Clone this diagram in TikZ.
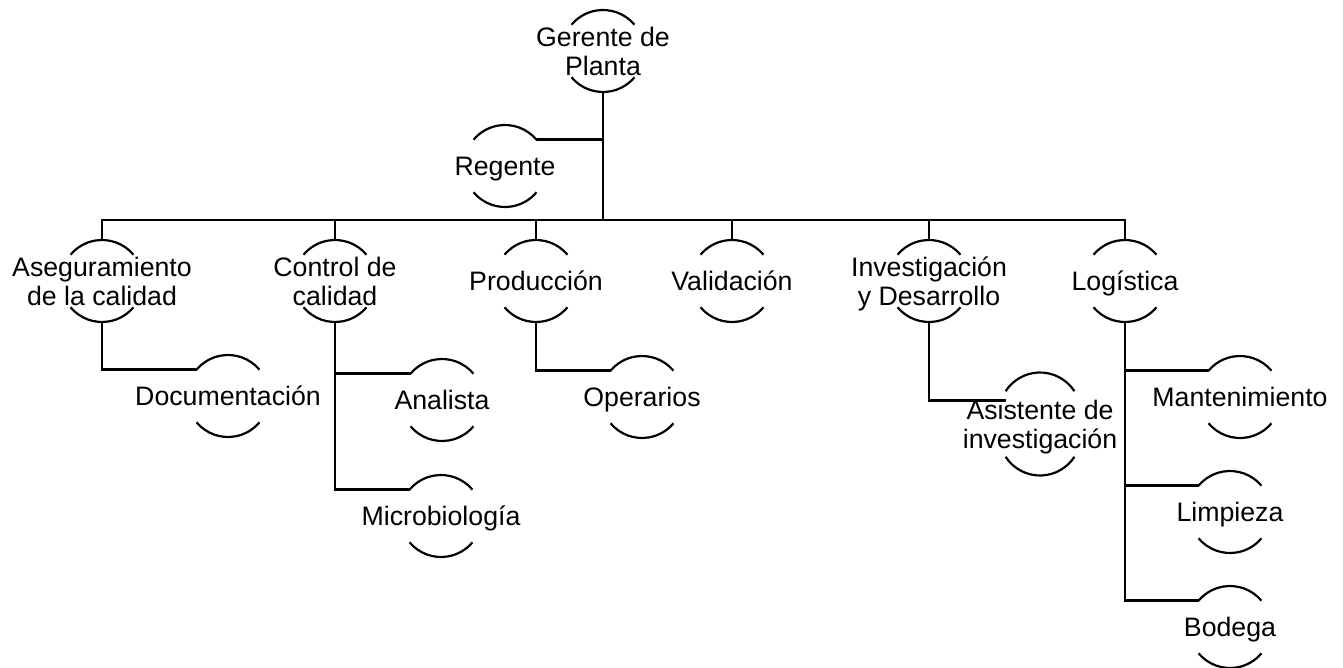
\documentclass[tikz,border=0pt]{standalone}
\usepackage{fontspec}
\setmainfont{Liberation Sans}
\newcommand{\orgfont}{\fontsize{26.7}{29}\selectfont}
% text of a unit, centred, taking no width
\newcommand{\orglines}[1]{\hbox to 0pt{\hss\begin{tabular}{c}#1\end{tabular}\hss}}

\tikzset{
	link/.style={line width=2.5pt},
	unitarc/.style={line width=2.2pt},
	% top and bottom arcs round a unit
	unitarcs/.style 2 args={append after command={\pgfextra{
		\draw[unitarc] ([yshift=#1]\tikzlastnode.center) ++(#2:41pt)
			arc[start angle=#2, end angle=180-#2, radius=41pt];
		\draw[unitarc] ([yshift=-#1]\tikzlastnode.center) ++(180+#2:41pt)
			arc[start angle=180+#2, end angle=360-#2, radius=41pt];
	}}},
	unitbase/.style={circle, minimum size=82pt, inner sep=0pt, outer sep=0pt,
		font=\orgfont, text height=20pt, text depth=0pt},
	orgunit/.style={unitbase, unitarcs={0pt}{40}},
	tallunit/.style={unitbase, unitarcs={10.5pt}{33}},
}

\begin{document}
\begin{tikzpicture}[x=1pt, y=1pt]

		%%% HELP LINES - uncomment to design/extend
		% \draw[step=50,gray,very thin] (0,-668) grid (1343,0);

		\useasboundingbox (0,0) rectangle (1343,-668);

		%% Horizontal bar
		\coordinate (bar) at (0,-220);

		% GERENTE
		\node[orgunit] (gerente) at (603,-51) {\orglines{Gerente de \\ Planta}};

		% REGENTE
		\node[orgunit] (regente) at (505,-166) {\orglines{Regente}};
		\draw[link] (regente.40) -- (regente.40 -| gerente);

		% AREAS
		\node[orgunit] (aseg) at (102,-281) {
			\orglines{Aseguramiento \\ de la calidad}
		};
		\node[orgunit] (control) at (335,-281) {
			\orglines{Control de \\ calidad}
		};
		\node[orgunit] (produccion) at (536,-281) {\orglines{Producción}};
		\node[orgunit] (validacion) at (732,-281) {\orglines{Validación}};
		\node[orgunit] (invest) at (929,-281) {
			\orglines{Investigación \\ y Desarrollo}
		};
		\node[orgunit] (logis) at (1125,-281) {\orglines{Logística}};

		\draw[link] (gerente.south) -- (gerente.south |- bar);
		\draw[link] (aseg.north) -- (aseg.north |- bar) -- (logis.north |- bar) -- (logis.north);
		\draw[link] (control.north) -- (control.north |- bar);
		\draw[link] (produccion.north) -- (produccion.north |- bar);
		\draw[link] (validacion.north) -- (validacion.north |- bar);
		\draw[link] (invest.north) -- (invest.north |- bar);

		% DOCUMENTACION
		\node[orgunit] (docu) at (228,-396) {\orglines{Documentación}};
		\draw[link] (aseg.south) |- (docu.140);

		% ANALISTA - MICROBIOLOGIA
		\node[orgunit] (analista) at (442,-400) {\orglines{Analista}};
		\node[orgunit] (micro) at (441,-516) {\orglines{Microbiología}};
		\draw[link] (control.south) |- (analista.140);
		\draw[link] (control.south) |- (micro.140);

		% OPERARIOS
		\node[orgunit] (operarios) at (642,-397) {\orglines{Operarios}};
		\draw[link] (produccion.south) |- (operarios.140);

		% ASISTENTE
		\node[tallunit] (asis) at (1040,-424) {
			\orglines{Asistente de \\ investigación}
		};
		\draw[link] (invest.south) |- (asis.145);

		% MANTENIMIENTO - LIMPIEZA - BODEGA
		\node[orgunit] (mante) at (1240,-397) {\orglines{Mantenimiento}};
		\node[orgunit] (limpieza) at (1230,-512) {\orglines{Limpieza}};
		\node[orgunit] (bodega) at (1230,-627) {\orglines{Bodega}};
		\draw[link] (logis.south) |- (mante.140);
		\draw[link] (logis.south) |- (limpieza.140);
		\draw[link] (logis.south) |- (bodega.140);
\end{tikzpicture}
\end{document}
